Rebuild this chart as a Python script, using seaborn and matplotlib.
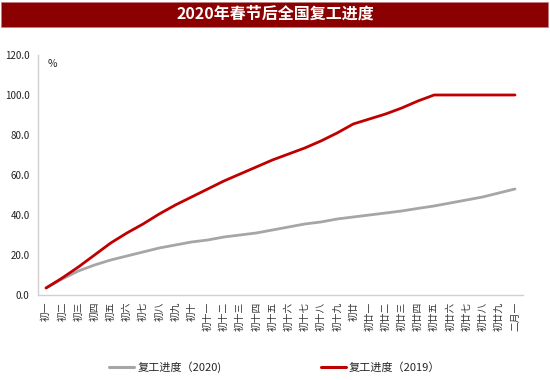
import matplotlib
matplotlib.use('Agg')
import matplotlib.pyplot as plt
import pandas as pd
import seaborn as sns
from matplotlib.patches import Rectangle
from matplotlib.lines import Line2D

# Lunar calendar days after Spring Festival
days = ['初一', '初二', '初三', '初四', '初五', '初六', '初七', '初八', '初九', '初十',
        '初十一', '初十二', '初十三', '初十四', '初十五', '初十六', '初十七', '初十八', '初十九',
        '初廿', '初廿一', '初廿二', '初廿三', '初廿四', '初廿五', '初廿六', '初廿七', '初廿八',
        '初廿九', '二月一']

progress_2020 = [3.5, 8, 12, 15, 17.5, 19.5, 21.5, 23.5, 25, 26.5,
                 27.5, 29, 30, 31, 32.5, 34, 35.5, 36.5, 38, 39,
                 40, 41, 42, 43.3, 44.5, 46, 47.5, 49, 51, 53]

progress_2019 = [3.5, 8.5, 14, 20, 26, 31, 35.5, 40.5, 45, 49,
                 53, 57, 60.5, 64, 67.5, 70.5, 73.5, 77, 81, 85.5,
                 88, 90.5, 93.5, 97, 100, 100, 100, 100, 100, 100]

series_names = ['复工进度（2020)', '复工进度（2019）']
colors = ['#A6A6A6', '#C00000']

sns.set_style('white')
plt.rcParams['font.family'] = ['Noto Sans CJK SC', 'DejaVu Sans']

df = pd.DataFrame({
    'day': days * 2,
    'value': progress_2020 + progress_2019,
    'series': [series_names[0]] * len(days) + [series_names[1]] * len(days),
})

fig = plt.figure(figsize=(5.5, 3.8), dpi=100)
ax = fig.add_axes([0.069, 0.2237, 0.882, 0.6316])

sns.lineplot(data=df, x='day', y='value', hue='series', palette=colors,
             linewidth=2.0, sort=False, ax=ax, legend=False)

ax.set_xlim(-0.5, len(days) - 0.5)
ax.set_ylim(0, 120)
ax.set_yticks(range(0, 121, 20))
ax.set_yticklabels([f'{v:.1f}' for v in range(0, 121, 20)], fontsize=7, color='#222222')
ax.set_xticks(range(len(days)))
ax.set_xticklabels(days, fontsize=7, color='#333333', rotation=90, va='top', ha='center')
ax.tick_params(axis='both', length=0)
ax.tick_params(axis='x', pad=5)
ax.tick_params(axis='y', pad=6)
ax.set_xlabel('')
ax.set_ylabel('')

for side in ['top', 'right']:
    ax.spines[side].set_visible(False)
for side in ['left', 'bottom']:
    ax.spines[side].set_color('#D0D0D0')
    ax.spines[side].set_linewidth(1.0)

ax.text(0.02, 0.985, '%', transform=ax.transAxes, fontsize=7.5, va='top', ha='left')

# Title banner
fig.patches.append(Rectangle((0.002, 1 - 27 / 380), 0.995, 25 / 380, transform=fig.transFigure,
                             facecolor='#8B0000', edgecolor='#C08080', linewidth=0.6))
fig.text(0.5, 1 - 14 / 380, '2020年春节后全国复工进度', ha='center', va='center',
         color='white', fontsize=11.5, fontweight='bold')

# Legend
handles = [Line2D([0], [0], color=c, linewidth=2.2) for c in colors]
fig.legend(handles, series_names, loc='center', bbox_to_anchor=(0.5, 1 - 367 / 380),
           ncol=2, frameon=False, fontsize=8, handlelength=2.2, handletextpad=0.3,
           columnspacing=9)

plt.savefig('out.png', dpi=100)
